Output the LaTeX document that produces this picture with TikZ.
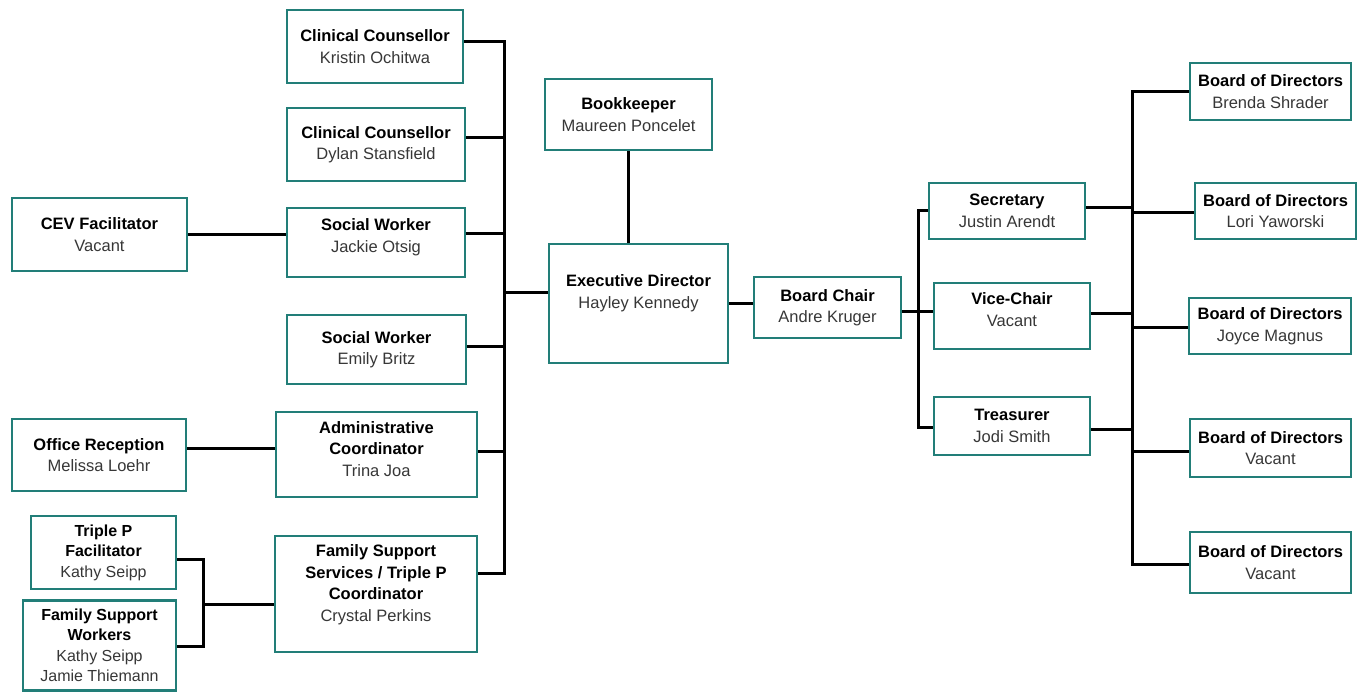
\documentclass[tikz,border=0pt]{standalone}
\usepackage{fontspec}
\setmainfont{Liberation Sans}
\usetikzlibrary{positioning}
\definecolor{orgteal}{RGB}{34,126,120}
\definecolor{nametext}{RGB}{55,55,55}
\newcommand{\who}[1]{{\mdseries\color{nametext}#1}}
\tikzset{
    box/.style={draw=orgteal, line width=2.7pt, fill=white, align=center, inner sep=0pt,
                font=\fontsize{16.5}{21.5}\selectfont\bfseries}, % every position in the chart
    size/.style 2 args={minimum width=#1, minimum height=#2}, % box size in px
    lift/.style={text depth=#1}, % pushes the text up in a tall box
    link/.style={line width=3pt, black}, % reporting lines
}

\begin{document}
\begin{tikzpicture}[x=1pt, y=-1pt]
    \useasboundingbox (0,0) rectangle (1362,692);
    % staff column
    \node[box, size={176pt}{73pt}] (cc1) at (375,46.5) {Clinical Counsellor\\\who{Kristin Ochitwa}};
    \node[box, size={178pt}{73pt}] (cc2) at (376,144.5) {Clinical Counsellor\\\who{Dylan Stansfield}};
    \node[box, size={178pt}{69pt}, lift=14pt] (sw1) at (376,242.5) {Social Worker\\\who{Jackie Otsig}};
    \node[box, size={179pt}{69pt}] (sw2) at (376.5,349.5) {Social Worker\\\who{Emily Britz}};
    \node[box, size={201pt}{85pt}, lift=11pt] (admin) at (376.5,454.5) {Administrative\\Coordinator\\\who{Trina Joa}};
    \node[box, size={202pt}{116pt}, lift=22pt] (fss) at (376,594) {Family Support\\Services / Triple P\\Coordinator\\\who{Crystal Perkins}};
    % outer left
    \node[box, size={175pt}{73pt}] (cev) at (99.5,234.5) {CEV Facilitator\\\who{Vacant}};
    \node[box, size={174pt}{72pt}] (office) at (99,455) {Office Reception\\\who{Melissa Loehr}};
    \node[box, size={145pt}{73pt}, font=\fontsize{16}{20.5}\selectfont\bfseries] (tpf) at (103.5,552.5) {Triple P\\Facilitator\\\who{Kathy Seipp}};
    \node[box, size={153pt}{90pt}, font=\fontsize{16}{20.5}\selectfont\bfseries] (fsw) at (99.5,645.5) {Family Support\\Workers\\\who{Kathy Seipp}\\\who{Jamie Thiemann}};
    % centre
    \node[box, size={167pt}{71pt}] (book) at (628.5,114.5) {Bookkeeper\\\who{Maureen Poncelet}};
    \node[box, size={179pt}{119pt}, lift=24pt] (exec) at (638.5,303.5) {Executive Director\\\who{Hayley Kennedy}};
    \node[box, size={147pt}{61pt}] (chair) at (827.5,307.5) {Board Chair\\\who{Andre Kruger}};
    % executive of the board
    \node[box, size={156pt}{56pt}] (sec) at (1007,211) {Secretary\\\who{Justin Arendt}};
    \node[box, size={156pt}{66pt}, lift=13pt] (vice) at (1012,316) {Vice-Chair\\\who{Vacant}};
    \node[box, size={156pt}{58pt}] (treas) at (1012,426) {Treasurer\\\who{Jodi Smith}};
    % board of directors
    \node[box, size={161pt}{57pt}] (bod1) at (1270.5,91.5) {Board of Directors\\\who{Brenda Shrader}};
    \node[box, size={161pt}{56pt}] (bod2) at (1275.5,211) {Board of Directors\\\who{Lori Yaworski}};
    \node[box, size={162pt}{56pt}] (bod3) at (1270,326) {Board of Directors\\\who{Joyce Magnus}};
    \node[box, size={161pt}{58pt}] (bod4) at (1270.5,448) {Board of Directors\\\who{Vacant}};
    \node[box, size={161pt}{61pt}] (bod5) at (1270.5,562.5) {Board of Directors\\\who{Vacant}};

    % junction points on the buses
    \coordinate (j1) at (504,42);
    \coordinate (j2) at (504,138);
    \coordinate (j3) at (504,234);
    \coordinate (j4) at (504,347);
    \coordinate (j5) at (504,451);
    \coordinate (j6) at (504,573);
    \coordinate (jx) at (504,293);
    \coordinate (k1) at (918,211);
    \coordinate (k2) at (918,312);
    \coordinate (k3) at (918,427);
    \coordinate (r1) at (1132,92);
    \coordinate (rs) at (1132,208);
    \coordinate (r2) at (1132,213);
    \coordinate (rv) at (1132,314);
    \coordinate (r3) at (1132,328);
    \coordinate (rt) at (1132,429);
    \coordinate (r4) at (1132,451);
    \coordinate (r5) at (1132,564);
    \coordinate (oline) at (230,448);
    \coordinate (t1) at (203,559);
    \coordinate (tm) at (203,604);
    \coordinate (t2) at (203,646);

    % staff bus
    \draw[link] (cc1.east |- j1) -- (j1) -- (j6) -- (fss.east |- j6);
    \draw[link] (cc2.east |- j2) -- (j2);
    \draw[link] (sw1.east |- j3) -- (j3);
    \draw[link] (sw2.east |- j4) -- (j4);
    \draw[link] (admin.east |- j5) -- (j5);
    \draw[link] (jx) -- (exec.west |- jx);
    \draw[link] (cev.east) -- (cev.east -| sw1.west);
    \draw[link] (office.east |- oline) -- (admin.west |- oline);
    \draw[link] (tpf.east |- t1) -- (t1) -- (t2) -- (fsw.east |- t2);
    \draw[link] (tm) -- (fss.west |- tm);
    % centre
    \draw[link] (book.south) -- (book.south |- exec.north);
    \draw[link] (exec.east) -- (exec.east -| chair.west);
    % board
    \draw[link] (sec.west |- k1) -- (k1) -- (k3) -- (treas.west |- k3);
    \draw[link] (chair.east |- k2) -- (vice.west |- k2);
    \draw[link] (bod1.west |- r1) -- (r1) -- (r5) -- (bod5.west |- r5);
    \draw[link] (sec.east |- rs) -- (rs);
    \draw[link] (r2) -- (bod2.west |- r2);
    \draw[link] (vice.east |- rv) -- (rv);
    \draw[link] (r3) -- (bod3.west |- r3);
    \draw[link] (treas.east |- rt) -- (rt);
    \draw[link] (r4) -- (bod4.west |- r4);
\end{tikzpicture}
\end{document}
